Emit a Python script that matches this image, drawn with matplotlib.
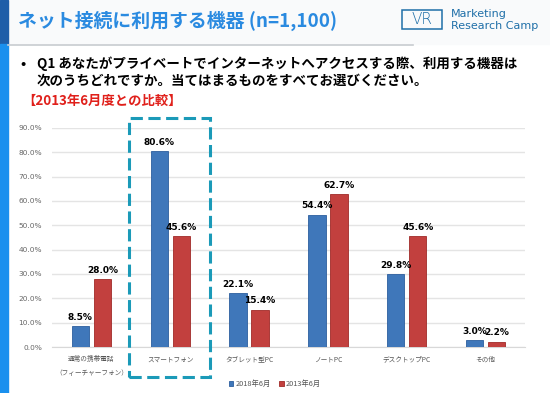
import matplotlib
matplotlib.use("Agg")
from matplotlib import pyplot as plt
from matplotlib.patches import Rectangle
from matplotlib.lines import Line2D
import numpy as np

plt.rcParams['font.family'] = ['Noto Sans CJK JP', 'DejaVu Sans']

categories = ["通常の携帯電話\n（フィーチャーフォン）", "スマートフォン", "タブレット型PC",
              "ノートPC", "デスクトップPC", "その他"]
values_2018 = [8.5, 80.6, 22.1, 54.4, 29.8, 3.0]
values_2013 = [28.0, 45.6, 15.4, 62.7, 45.6, 2.2]
series_names = ["2018年6月", "2013年6月"]
yticks = [0, 10, 20, 30, 40, 50, 60, 70, 80, 90]

BLUE = "#3f77ba"
RED = "#c2403e"
TEAL = "#1b9ab8"

fig = plt.figure(figsize=(5.5, 3.93), dpi=100)
W, H = 550, 393


def px(x, y):
    """Pixel coords (from top-left) to figure fraction."""
    return x / W, 1 - y / H


# header background and side strips
fig.patches.append(Rectangle(px(0, 44), 1, 44 / H, transform=fig.transFigure,
                             color="#f9fafb", zorder=0))
fig.patches.append(Rectangle(px(0, 44), 8 / W, 44 / H, transform=fig.transFigure,
                             color="#1f5ea8", zorder=1))
fig.patches.append(Rectangle(px(0, 393), 8 / W, 349 / H, transform=fig.transFigure,
                             color="#1a90ee", zorder=1))
fig.lines.append(Line2D([8 / W, 0.75], [1 - 44.5 / H] * 2, transform=fig.transFigure,
                        color="#c8ccd0", lw=1.2))

fig.text(*px(18, 21), "ネット接続に利用する機器 (n=1,100)", color="#2a8ae0",
         fontsize=13.6, fontweight="bold", va="center", ha="left")

# logo
fig.patches.append(Rectangle(px(402, 29), 40 / W, 19 / H, transform=fig.transFigure,
                             fill=False, edgecolor="#1f6fa8", lw=1.1))
fig.text(*px(422, 20), "VR", color="#1f6fa8", fontsize=11, family="DejaVu Sans",
         fontweight="light", ha="center", va="center")
fig.text(*px(451, 14), "Marketing", color="#1f6fa8", fontsize=8,
         family="DejaVu Sans", ha="left", va="center")
fig.text(*px(451, 26), "Research Camp", color="#1f6fa8", fontsize=8,
         family="DejaVu Sans", ha="left", va="center")

# question text
fig.text(*px(20, 64), "•", fontsize=10, fontweight="bold", va="center")
fig.text(*px(37, 64), "Q1 あなたがプライベートでインターネットへアクセスする際、利用する機器は",
         fontsize=9.7, fontweight="bold", va="center")
fig.text(*px(37, 81), "次のうちどれですか。当てはまるものをすべてお選びください。",
         fontsize=9.7, fontweight="bold", va="center")
fig.text(*px(22, 101), "【2013年6月度との比較】", color="#e0201b",
         fontsize=9.6, fontweight="bold", va="center")

# chart
ax = fig.add_axes([52 / W, 46 / H, 473 / W, 219 / H])
x = np.arange(len(categories))
bw = 0.22
off = 0.14
b1 = ax.bar(x - off, values_2018, bw, color=BLUE, edgecolor="#2c5e9e", lw=0.6,
            label=series_names[0], zorder=3)
b2 = ax.bar(x + off, values_2013, bw, color=RED, edgecolor="#a02a28", lw=0.6,
            label=series_names[1], zorder=3)
for bars in (b1, b2):
    for rect in bars:
        ax.annotate(f"{rect.get_height():.1f}%",
                    (rect.get_x() + rect.get_width() / 2, rect.get_height()),
                    xytext=(0, 3), textcoords="offset points", ha="center",
                    va="bottom", fontsize=6.5, fontweight="bold",
                    family="DejaVu Sans")

ax.set_xlim(-0.5, len(categories) - 0.5)
ax.set_ylim(0, 90)
ax.set_yticks(yticks)
ax.set_yticklabels([f"{t:.1f}%" for t in yticks], fontsize=5.3, color="#666666",
                   family="DejaVu Sans")
ax.set_xticks(x)
ax.set_xticklabels(categories, fontsize=4.8, color="#555555", linespacing=2.0)
ax.tick_params(length=0, pad=6)
ax.tick_params(axis="y", pad=7)
ax.grid(axis="y", color="#e4e4e4", lw=1, zorder=0)
for s in ("top", "right", "left"):
    ax.spines[s].set_visible(False)
ax.spines["bottom"].set_color("#d8d8d8")

# dashed highlight around smartphone
fig.patches.append(Rectangle(px(129, 377), 81 / W, 259 / H, transform=fig.transFigure,
                             fill=False, edgecolor=TEAL, lw=2.2,
                             linestyle=(0, (4, 1.8)), zorder=5))

fig.legend(handles=[b1, b2], loc="center", bbox_to_anchor=px(275, 384),
           ncol=2, frameon=False, fontsize=5.3, handlelength=0.6,
           handleheight=0.6, handletextpad=0.3, columnspacing=1.2,
           labelcolor="#555555")

fig.savefig("out.png", dpi=100)
